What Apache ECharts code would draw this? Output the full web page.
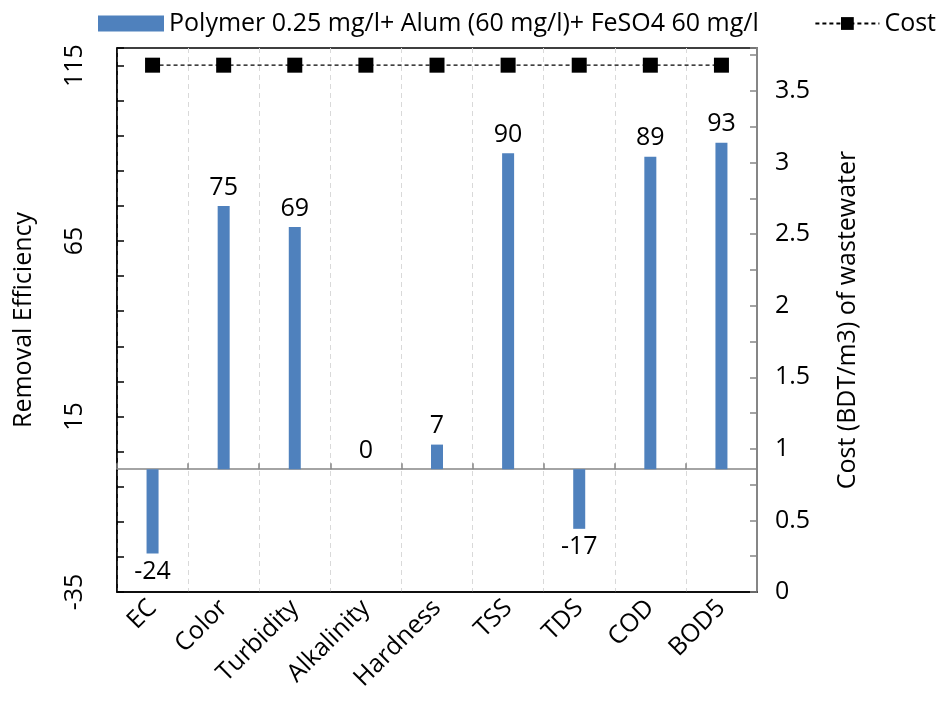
<!DOCTYPE html>
<html>
<head>
<meta charset="utf-8">
<script src="https://cdn.jsdelivr.net/npm/echarts@6/dist/echarts.min.js"></script>
<style>
html,body{margin:0;padding:0;background:#fff;}
#chart{width:945px;height:709px;}
</style>
</head>
<body>
<div id="chart"></div>
<script>
const categories = ['EC', 'Color', 'Turbidity', 'Alkalinity', 'Hardness', 'TSS', 'TDS', 'COD', 'BOD5'];
const removalEfficiency = [-24, 75, 69, 0, 7, 90, -17, 89, 93];
const costValues = [3.68, 3.68, 3.68, 3.68, 3.68, 3.68, 3.68, 3.68, 3.68];
const barSeriesName = 'Polymer 0.25 mg/l+ Alum (60 mg/l)+ FeSO4 60 mg/l';
const lineSeriesName = 'Cost';
const leftTickLabels = [-35, 15, 65, 115];
const rightTickLabels = [0, 0.5, 1, 1.5, 2, 2.5, 3, 3.5];

const FONT = 'Open Sans';
const FS = 25;
const chart = echarts.init(document.getElementById('chart'), null, {renderer: 'canvas'});

const option = {
  backgroundColor: '#fff',
  animation: false,
  textStyle: {fontFamily: FONT, color: '#000'},
  legend: [
    {
      data: [barSeriesName],
      left: 93, top: 6,
      itemWidth: 66, itemHeight: 16, itemGap: 10,
      icon: 'rect',
      textStyle: {fontFamily: FONT, fontSize: FS, color: '#000'}
    },
    {
      data: [lineSeriesName],
      right: 4, top: 6,
      itemWidth: 64, itemHeight: 16,
      textStyle: {fontFamily: FONT, fontSize: FS, color: '#000'}
    }
  ],
  grid: {
    left: 117, right: 188, top: 48, bottom: 117,
    show: true, borderColor: '#000', borderWidth: 1.5, backgroundColor: 'transparent',
    containLabel: false
  },
  xAxis: [
    {
      type: 'category', data: categories, position: 'bottom',
      axisLine: {onZero: false, lineStyle: {color: '#000', width: 1.5}},
      axisTick: {show: false},
      splitLine: {show: true, lineStyle: {color: '#D9D9D9', type: [5, 4], width: 1}},
      axisLabel: {rotate: 45, fontSize: FS, color: '#000', fontFamily: FONT, margin: 12, interval: 0}
    },
    {
      type: 'category', data: categories, position: 'bottom',
      axisLine: {onZero: true, lineStyle: {color: '#868686', width: 1.5}},
      axisTick: {show: true, inside: true, length: 6, lineStyle: {color: '#868686', width: 1.5}},
      axisLabel: {show: false},
      splitLine: {show: false}
    }
  ],
  yAxis: [
    {
      type: 'value', min: -35, max: 120, interval: 10,
      name: 'Removal Efficiency', nameLocation: 'middle', nameGap: 81, nameRotate: 90,
      nameTextStyle: {fontSize: FS, color: '#000', fontFamily: FONT},
      axisLine: {show: true, lineStyle: {color: '#000', width: 1.5}},
      axisTick: {show: true, inside: true, length: 7, lineStyle: {color: '#000', width: 1.5}},
      splitLine: {show: false},
      axisLabel: {
        rotate: 90, fontSize: FS, color: '#000', fontFamily: FONT, margin: 30,
        formatter: function (v) {
          return leftTickLabels.some(t => Math.abs(t - v) < 1e-6) ? String(v) : '';
        }
      }
    },
    {
      type: 'value', min: 0, max: 3.8, interval: 0.25, position: 'right',
      name: 'Cost (BDT/m3) of wastewater', nameLocation: 'middle', nameGap: 78, nameRotate: 90,
      nameTextStyle: {fontSize: FS, color: '#000', fontFamily: FONT},
      axisLine: {show: true, lineStyle: {color: '#868686', width: 2}},
      axisTick: {show: true, inside: true, length: 7, lineStyle: {color: '#868686', width: 1.5}},
      splitLine: {show: false},
      axisLabel: {
        fontSize: FS, color: '#000', fontFamily: FONT, margin: 18,
        formatter: function (v) {
          return rightTickLabels.some(t => Math.abs(t - v) < 1e-6) ? String(v) : '';
        }
      }
    }
  ],
  series: [
    {
      name: barSeriesName, type: 'bar', xAxisIndex: 0, yAxisIndex: 0,
      data: removalEfficiency.map(v => ({
        value: v,
        label: {position: v < 0 ? 'bottom' : 'top'}
      })),
      barWidth: 12,
      itemStyle: {color: '#4F81BD'},
      label: {show: true, fontSize: FS, color: '#000', fontFamily: FONT, distance: 6},
      z: 2
    },
    {
      name: lineSeriesName, type: 'line', xAxisIndex: 0, yAxisIndex: 1,
      data: costValues,
      symbol: 'rect', symbolSize: 15,
      itemStyle: {color: '#000'},
      lineStyle: {color: '#000', width: 1.3, type: [4, 3]},
      z: 5
    }
  ]
};
chart.setOption(option);
</script>
</body>
</html>
